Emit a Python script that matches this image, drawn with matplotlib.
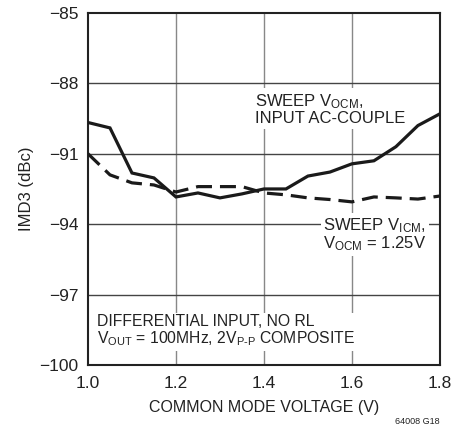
import matplotlib
matplotlib.use('Agg')
import matplotlib.pyplot as plt
from matplotlib import font_manager

# pick a narrow font if we have one
names = {f.name for f in font_manager.fontManager.ttflist}
fam = 'Liberation Sans Narrow' if 'Liberation Sans Narrow' in names else 'Liberation Sans'
plt.rcParams['font.family'] = [fam, 'DejaVu Sans']
plt.rcParams['mathtext.fontset'] = 'custom'
plt.rcParams['mathtext.rm'] = fam

# data
vcm = [1.0, 1.05, 1.10, 1.15, 1.20, 1.25, 1.30, 1.35, 1.40, 1.45, 1.50, 1.55, 1.60, 1.65, 1.70, 1.75, 1.80]
imd3_vocm = [-89.67, -89.9, -91.82, -92.03, -92.84, -92.67, -92.88, -92.71, -92.5, -92.5,
             -91.95, -91.78, -91.43, -91.3, -90.7, -89.8, -89.3]
imd3_vicm = [-91.0, -91.9, -92.24, -92.33, -92.63, -92.4, -92.4, -92.4, -92.67, -92.75,
             -92.88, -92.95, -93.05, -92.84, -92.88, -92.93, -92.8]
xticks = [1.0, 1.2, 1.4, 1.6, 1.8]
yticks = [-100, -97, -94, -91, -88, -85]

fig = plt.figure(figsize=(4.68, 4.28), dpi=100)
ax = fig.add_axes([0.188, 0.147, 0.752, 0.823])

ax.plot(vcm, imd3_vocm, color='#1a1a1a', lw=2.3, solid_joinstyle='miter', zorder=3)
ax.plot(vcm, imd3_vicm, color='#1a1a1a', lw=2.3, dashes=(5, 2.5), zorder=3)

ax.set_xlim(1.0, 1.8)
ax.set_ylim(-100, -85)
ax.set_xticks(xticks)
ax.set_xticklabels(['%.1f' % t for t in xticks])
ax.set_yticks(yticks)
ax.set_yticklabels(['\u2212%d' % abs(t) for t in yticks])
ax.tick_params(length=0, labelsize=12.5, colors='#222')
ax.tick_params(axis='x', pad=8)
ax.tick_params(axis='y', pad=7)

for t in xticks[1:-1]:
    ax.axvline(t, color='#888', lw=1.0, zorder=1)
for t in yticks[1:-1]:
    ax.axhline(t, color='#444', lw=1.0, zorder=1)
for s in ax.spines.values():
    s.set_linewidth(1.5)
    s.set_color('#222')

ax.set_xlabel('COMMON MODE VOLTAGE (V)', fontsize=11.5, color='#222', labelpad=6)
ax.set_ylabel('IMD3 (dBc)', fontsize=12, color='#222', labelpad=4)

box = dict(facecolor='white', edgecolor='none', pad=2)
ax.text(1.38, -89.1, 'SWEEP $\\mathregular{V_{OCM}}$,\nINPUT AC-COUPLE', fontsize=12,
        color='#222', va='center', ha='left', linespacing=1.0, bbox=box, zorder=4)
ax.text(1.535, -94.45, 'SWEEP $\\mathregular{V_{ICM}}$,\n$\\mathregular{V_{OCM}}$ = 1.25V', fontsize=12,
        color='#222', va='center', ha='left', linespacing=1.0, bbox=box, zorder=4)
ax.text(1.02, -98.55, 'DIFFERENTIAL INPUT, NO RL\n$\\mathregular{V_{OUT}}$ = 100MHz, 2$\\mathregular{V_{P\\text{-}P}}$ COMPOSITE',
        fontsize=11.3, color='#222', va='center', ha='left', linespacing=1.05, bbox=box, zorder=4)

fig.text(0.94, 0.005, '64008 G18', fontsize=6.5, color='#222', ha='right', va='bottom')

fig.savefig('out.png', dpi=100)
